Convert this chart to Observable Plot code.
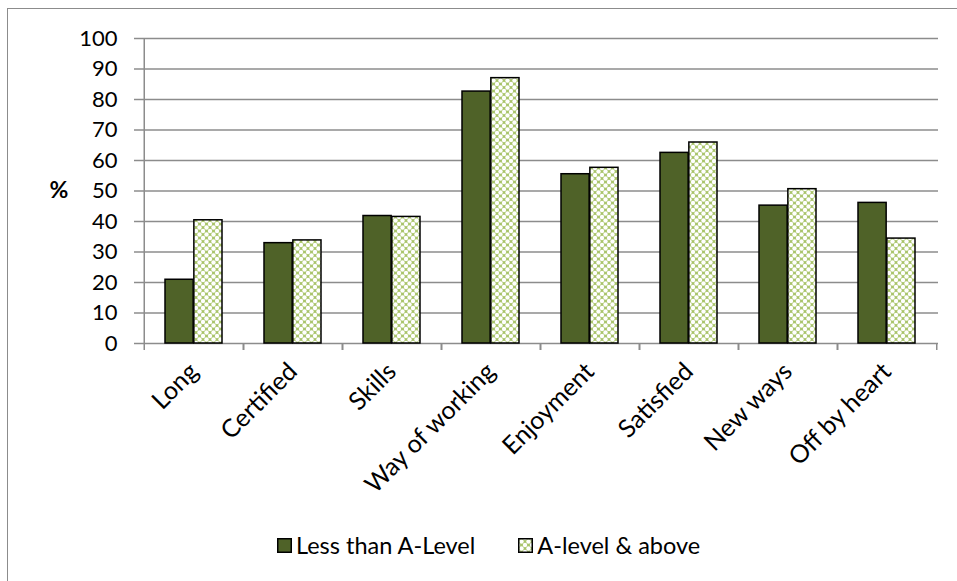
<!DOCTYPE html>
<html>
<head>
<meta charset="utf-8">
<script src="https://cdn.jsdelivr.net/npm/d3@7"></script>
<script src="https://cdn.jsdelivr.net/npm/@observablehq/plot@0.6"></script>
<style>
  body { margin: 0; background: #fff; font-family: Lato, "Open Sans", sans-serif; }
  #wrap { position: relative; width: 957px; height: 581px; overflow: hidden; background: #fff; }
  #border { position: absolute; left: 7px; top: 8px; width: 1000px; height: 700px;
            border-left: 1.5px solid #8c8c8c; border-top: 1.5px solid #8c8c8c; }
  #chart { position: absolute; left: 0; top: 0; }
  #legend { position: absolute; left: 277px; top: 531px; display: flex; align-items: center;
            font-size: 23.5px; color: #000; white-space: nowrap; }
  .item { display: flex; align-items: center; margin-right: 43px; }
</style>
</head>
<body>
<svg width="0" height="0" style="position:absolute">
  <defs>
    <pattern id="dotdiamond" width="7" height="7" patternUnits="userSpaceOnUse">
      <rect width="7" height="7" fill="#a9c46a"/>
      <circle cx="0" cy="0" r="2.2" fill="#ffffff"/>
      <circle cx="7" cy="0" r="2.2" fill="#ffffff"/>
      <circle cx="0" cy="7" r="2.2" fill="#ffffff"/>
      <circle cx="7" cy="7" r="2.2" fill="#ffffff"/>
      <circle cx="3.5" cy="3.5" r="2.2" fill="#ffffff"/>
    </pattern>
  </defs>
</svg>
<div id="wrap">
  <div id="border"></div>
  <div id="chart"></div>
  <div id="legend"></div>
</div>
<script>
// ---- data ----
const categories = ["Long", "Certified", "Skills", "Way of working", "Enjoyment", "Satisfied", "New ways", "Off by heart"];
const series = ["Less than A-Level", "A-level & above"];
const lessThanALevel = [20.9, 32.9, 41.8, 82.6, 55.5, 62.5, 45.2, 46.1];
const aLevelAndAbove = [40.4, 33.8, 41.5, 87.0, 57.6, 65.9, 50.6, 34.4];
const yTicks = [0, 10, 20, 30, 40, 50, 60, 70, 80, 90, 100];

// ---- styles ----
const darkGreen = "#4f6228";
const patternFill = "url(#dotdiamond)";
const gridGray = "#8c8c8c";

const width = 957, height = 500;
const mL = 142, mR = 19, mT = 38, mB = 157;
const pad = 0.42;
const step = (width - mL - mR) / categories.length;
const half = step * (1 - pad) / 2;

const rows1 = categories.map((c, i) => ({category: c, series: series[0], value: lessThanALevel[i]}));
const rows2 = categories.map((c, i) => ({category: c, series: series[1], value: aLevelAndAbove[i]}));

const chart = Plot.plot({
  width, height,
  marginLeft: mL, marginRight: mR, marginTop: mT, marginBottom: mB,
  style: {fontFamily: "Lato, 'Open Sans', sans-serif", fontSize: "22px", color: "#000", background: "transparent"},
  x: {domain: categories, paddingInner: pad, paddingOuter: pad / 2, label: null},
  y: {domain: [0, 100], label: null},
  marks: [
    Plot.gridY(yTicks, {stroke: gridGray, strokeOpacity: 1, strokeWidth: 1.5}),
    Plot.ruleX([categories[0]], {dx: -step / 2, y1: -2.3, y2: 100, stroke: gridGray, strokeWidth: 1.5}),
    Plot.ruleX(categories, {dx: step / 2, y1: -2.3, y2: 0, stroke: gridGray, strokeWidth: 1.5}),
    Plot.ruleX(categories.slice(1), {dx: -step / 2, y1: -2.3, y2: 0, stroke: gridGray, strokeWidth: 1.5}),
    Plot.axisY(yTicks, {tickSize: 8, tickPadding: 17, stroke: gridGray, strokeWidth: 1.5, fill: "#000", fontSize: 22, label: null}),
    Plot.barY(rows1, {x: "category", y: "value", fill: darkGreen, stroke: "#000", strokeWidth: 1.5, insetRight: half}),
    Plot.barY(rows2, {x: "category", y: "value", fill: patternFill, stroke: "#000", strokeWidth: 1.5, insetLeft: half}),
    Plot.axisX({tickSize: 0, tickPadding: 24, tickRotate: -45, fill: "#000", fontSize: 25, label: null}),
    Plot.text(["%"], {frameAnchor: "left", dx: -93, text: d => d, fontWeight: "bold", fontSize: 23, fill: "#000"})
  ]
});
document.getElementById("chart").appendChild(chart);

// legend
const legend = document.getElementById("legend");
[[series[0], darkGreen], [series[1], patternFill]].forEach(([label, fill], i) => {
  const item = document.createElement("div");
  item.className = "item";
  const sw = document.createElementNS("http://www.w3.org/2000/svg", "svg");
  sw.setAttribute("width", 15); sw.setAttribute("height", 15);
  sw.style.marginRight = "4px";
  sw.innerHTML = `<rect x="0.75" y="0.75" width="13.5" height="13.5" fill="${fill}" stroke="#000" stroke-width="1.5"/>`;
  item.appendChild(sw);
  const t = document.createElement("span");
  t.textContent = label;
  item.appendChild(t);
  legend.appendChild(item);
});
</script>
</body>
</html>
